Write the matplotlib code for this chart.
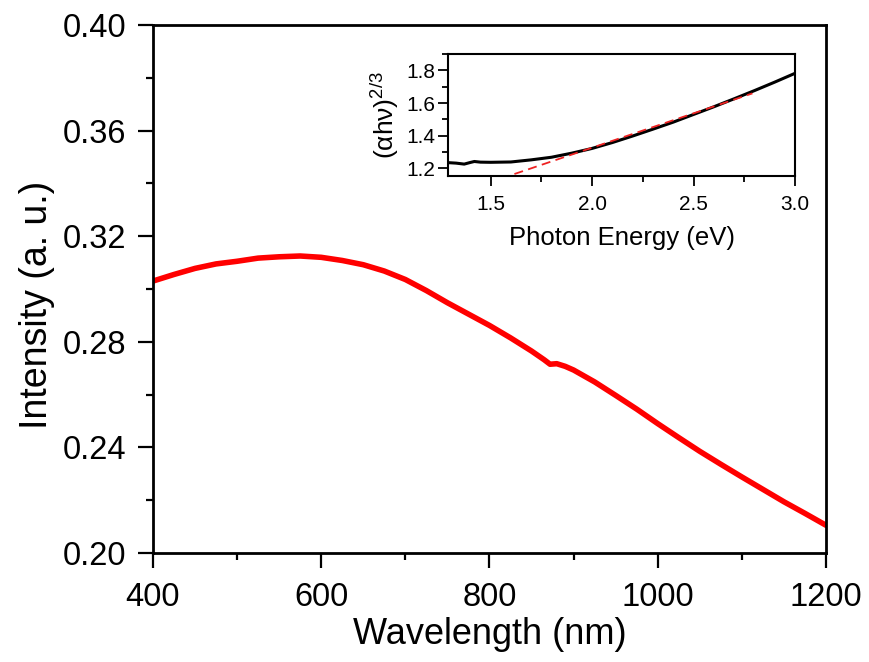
import matplotlib
matplotlib.use("Agg")
import matplotlib.pyplot as plt
from matplotlib.ticker import MultipleLocator, FormatStrFormatter

plt.rcParams['font.family'] = ['Liberation Sans', 'DejaVu Sans']
plt.rcParams['mathtext.fontset'] = 'custom'
plt.rcParams['mathtext.rm'] = 'Liberation Sans'
plt.rcParams['mathtext.it'] = 'Liberation Sans'

# Main spectrum
wavelength = [400, 425, 450, 475, 500, 525, 550, 575, 600, 625, 650, 675, 700,
              725, 750, 775, 800, 825, 850, 865, 872, 880, 890, 900, 925, 950,
              975, 1000, 1025, 1050, 1075, 1100, 1125, 1150, 1175, 1200]
intensity = [0.3030, 0.3055, 0.3078, 0.3095, 0.3105, 0.3117, 0.3122, 0.3125,
             0.3120, 0.3108, 0.3092, 0.3068, 0.3036, 0.2994, 0.2948, 0.2905,
             0.2862, 0.2815, 0.2765, 0.2732, 0.2715, 0.2717, 0.2707, 0.2693,
             0.2648, 0.2597, 0.2545, 0.2490, 0.2437, 0.2385, 0.2336, 0.2288,
             0.2241, 0.2194, 0.2150, 0.2105]

# Inset Tauc plot
energy = [1.29, 1.33, 1.37, 1.40, 1.42, 1.45, 1.50, 1.60, 1.70, 1.80, 1.90,
          2.00, 2.10, 2.20, 2.30, 2.40, 2.50, 2.60, 2.70, 2.80, 2.90, 3.00]
tauc = [1.235, 1.232, 1.226, 1.236, 1.242, 1.238, 1.237, 1.239, 1.252, 1.268,
        1.293, 1.322, 1.358, 1.398, 1.440, 1.483, 1.530, 1.577, 1.626, 1.676,
        1.728, 1.782]
fit_x = [1.55, 2.79]
fit_y = [1.137, 1.659]

fig = plt.figure(figsize=(8.69, 6.62), dpi=100)
ax = fig.add_axes([0.176, 0.1647, 0.7745, 0.7975])
ax.plot(wavelength, intensity, color='#ff0000', lw=4.0, solid_capstyle='round')
ax.set_xlim(400, 1200)
ax.set_ylim(0.20, 0.40)
ax.xaxis.set_major_locator(MultipleLocator(200))
ax.xaxis.set_minor_locator(MultipleLocator(100))
ax.yaxis.set_major_locator(MultipleLocator(0.04))
ax.yaxis.set_minor_locator(MultipleLocator(0.02))
ax.yaxis.set_major_formatter(FormatStrFormatter('%.2f'))
ax.tick_params(which='both', direction='out', width=1.6, labelsize=23.5,
               top=False, right=False)
ax.tick_params(which='major', length=11)
ax.tick_params(which='minor', length=5)
ax.tick_params(axis='x', which='major', pad=10)
ax.tick_params(axis='y', which='major', pad=8)
for s in ax.spines.values():
    s.set_linewidth(2.0)
ax.set_xlabel('Wavelength (nm)', fontsize=26, labelpad=3)
ax.set_ylabel('Intensity (a. u.)', fontsize=27)
ax.yaxis.set_label_coords(-0.145, 0.47)

ins = fig.add_axes([0.5155, 0.7341, 0.3994, 0.1843])
ins.plot(energy, tauc, color='black', lw=2.2)
ins.plot(fit_x, fit_y, color='#ee2222', lw=1.3, ls=(0, (5, 3)))
ins.set_xlim(1.29, 3.0)
ins.set_ylim(1.153, 1.90)
ins.xaxis.set_major_locator(MultipleLocator(0.5))
ins.xaxis.set_minor_locator(MultipleLocator(0.25))
ins.yaxis.set_major_locator(MultipleLocator(0.2))
ins.yaxis.set_minor_locator(MultipleLocator(0.1))
ins.tick_params(which='both', direction='out', width=1.3, labelsize=15,
                top=False, right=False)
ins.tick_params(which='major', length=7)
ins.tick_params(which='minor', length=4)
ins.tick_params(axis='x', which='major', pad=7)
ins.tick_params(axis='y', which='major', pad=2)
for s in ins.spines.values():
    s.set_linewidth(1.5)
ins.set_xlabel('Photon Energy (eV)', fontsize=18.5, labelpad=8)
ins.set_ylabel('(αhν)$^{2/3}$', fontsize=19, labelpad=4)

fig.savefig('out.png', dpi=100)
